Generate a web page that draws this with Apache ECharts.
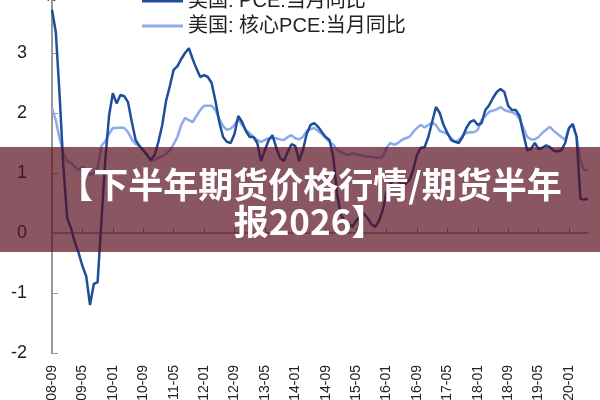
<!DOCTYPE html>
<html>
<head>
<meta charset="utf-8">
<script src="https://cdn.jsdelivr.net/npm/echarts@6/dist/echarts.min.js"></script>
<style>
html,body{margin:0;padding:0;background:#fff;}
#chart{width:600px;height:400px;}
</style>
</head>
<body>
<div id="chart"></div>
<script>
// ---- data ----
const categories = [
 '2008-09','2008-10','2008-11','2008-12',
 '2009-01','2009-02','2009-03','2009-04','2009-05','2009-06','2009-07','2009-08','2009-09','2009-10','2009-11','2009-12',
 '2010-01','2010-02','2010-03','2010-04','2010-05','2010-06','2010-07','2010-08','2010-09','2010-10','2010-11','2010-12',
 '2011-01','2011-02','2011-03','2011-04','2011-05','2011-06','2011-07','2011-08','2011-09','2011-10','2011-11','2011-12',
 '2012-01','2012-02','2012-03','2012-04','2012-05','2012-06','2012-07','2012-08','2012-09','2012-10','2012-11','2012-12',
 '2013-01','2013-02','2013-03','2013-04','2013-05','2013-06','2013-07','2013-08','2013-09','2013-10','2013-11','2013-12',
 '2014-01','2014-02','2014-03','2014-04','2014-05','2014-06','2014-07','2014-08','2014-09','2014-10','2014-11','2014-12',
 '2015-01','2015-02','2015-03','2015-04','2015-05','2015-06','2015-07','2015-08','2015-09','2015-10','2015-11','2015-12',
 '2016-01','2016-02','2016-03','2016-04','2016-05','2016-06','2016-07','2016-08','2016-09','2016-10','2016-11','2016-12',
 '2017-01','2017-02','2017-03','2017-04','2017-05','2017-06','2017-07','2017-08','2017-09','2017-10','2017-11','2017-12',
 '2018-01','2018-02','2018-03','2018-04','2018-05','2018-06','2018-07','2018-08','2018-09','2018-10','2018-11','2018-12',
 '2019-01','2019-02','2019-03','2019-04','2019-05','2019-06','2019-07','2019-08','2019-09','2019-10','2019-11','2019-12',
 '2020-01','2020-02','2020-03','2020-04','2020-05','2020-06'
];
const pceName = '美国: PCE:当月同比';
const coreName = '美国: 核心PCE:当月同比';
const pce = [
 3.72,3.35,2.3,1.1,
 0.25,0.08,-0.15,-0.33,-0.55,-0.72,-1.2,-0.85,-0.82,0.2,1.2,1.95,
 2.33,2.16,2.3,2.28,2.18,1.85,1.55,1.45,1.38,1.3,1.22,1.3,
 1.52,1.8,2.2,2.45,2.72,2.78,2.9,3.0,3.08,2.9,2.74,2.6,
 2.63,2.6,2.5,2.2,1.85,1.6,1.52,1.5,1.65,1.95,1.85,1.7,
 1.6,1.6,1.5,1.2,1.38,1.55,1.63,1.42,1.25,1.2,1.35,1.48,
 1.45,1.2,1.38,1.65,1.8,1.83,1.77,1.68,1.6,1.55,1.27,0.65,
 0.3,0.2,0.17,0.1,0.2,0.28,0.33,0.25,0.15,0.1,0.2,0.38,
 0.68,0.82,0.88,0.86,0.82,0.82,0.88,1.05,1.3,1.42,1.43,1.6,
 1.85,2.1,2.0,1.8,1.67,1.55,1.52,1.5,1.6,1.75,1.85,1.88,
 1.8,1.83,2.05,2.13,2.25,2.35,2.4,2.35,2.12,2.05,2.05,1.95,
 1.65,1.38,1.4,1.5,1.4,1.42,1.46,1.43,1.37,1.36,1.38,1.5,
 1.75,1.82,1.6,0.57,0.56,0.57
];
const core = [
 2.08,1.88,1.57,1.33,
 1.2,1.17,1.1,1.05,1.1,1.05,0.97,1.0,1.08,1.45,1.53,1.65,
 1.75,1.75,1.76,1.75,1.68,1.56,1.48,1.45,1.38,1.3,1.2,1.22,
 1.25,1.28,1.32,1.38,1.48,1.6,1.8,1.92,1.88,1.85,1.95,2.05,
 2.12,2.12,2.12,2.05,1.9,1.78,1.72,1.74,1.8,1.9,1.8,1.72,
 1.66,1.6,1.55,1.52,1.55,1.58,1.58,1.58,1.56,1.55,1.6,1.63,
 1.58,1.56,1.6,1.7,1.73,1.75,1.7,1.65,1.58,1.52,1.47,1.38,
 1.35,1.32,1.3,1.33,1.31,1.3,1.28,1.27,1.27,1.26,1.25,1.27,
 1.42,1.5,1.47,1.5,1.55,1.58,1.6,1.68,1.75,1.8,1.76,1.8,
 1.84,1.8,1.7,1.68,1.65,1.58,1.52,1.55,1.62,1.67,1.68,1.68,
 1.72,1.88,1.95,2.02,2.04,2.06,2.1,2.05,2.03,2.01,1.98,1.9,
 1.75,1.6,1.56,1.56,1.6,1.67,1.72,1.77,1.7,1.65,1.6,1.55,
 1.75,1.8,1.6,1.2,1.05,1.05
];
const yTicks = {min: -2, max: 4, step: 1};
const unitText = '%';
const bannerLines = ['【下半年期货价格行情/期货半年', '报2026】'];

// ---- chart ----
const chart = echarts.init(document.getElementById('chart'), null, {renderer: 'canvas'});
const darkBlue = '#1F4E9B';
const lightBlue = '#8FAAEC';
const latin = 'Liberation Sans, Arial, Noto Sans CJK SC, sans-serif';
const option = {
  animation: false,
  backgroundColor: '#ffffff',
  grid: {left: 52, right: 12, top: -7, bottom: 47, containLabel: false, outerBoundsMode: 'none'},
  legend: {
    orient: 'vertical', left: 142, top: -9, padding: 0,
    itemWidth: 41, itemHeight: 3, itemGap: 5,
    icon: 'rect',
    textStyle: {fontSize: 20, color: '#222', fontFamily: latin},
    data: [{name: pceName}, {name: coreName}]
  },
  xAxis: [
    {
      type: 'category', data: categories, boundaryGap: false, position: 'bottom',
      axisLine: {show: false, onZero: false},
      axisTick: {show: false},
      splitLine: {show: false},
      axisLabel: {interval: 7, rotate: 90, margin: 12, fontSize: 14, color: '#222', fontFamily: latin}
    },
    {
      type: 'category', data: categories, boundaryGap: false, position: 'bottom',
      axisLine: {show: true, onZero: true, lineStyle: {color: '#8a8a8a', width: 1.5}},
      axisTick: {show: true, inside: true, interval: 7, length: 5, lineStyle: {color: '#8a8a8a', width: 1}},
      axisLabel: {show: false},
      splitLine: {show: false}
    }
  ],
  yAxis: {
    type: 'value', min: yTicks.min, max: yTicks.max, interval: yTicks.step,
    axisLine: {show: true, lineStyle: {color: '#999', width: 2}},
    axisTick: {show: true, inside: true, length: 6, lineStyle: {color: '#999', width: 1}},
    axisLabel: {fontSize: 18, color: '#222', margin: 25, fontFamily: latin, showMaxLabel: false},
    splitLine: {show: false}
  },
  series: [
    {
      name: pceName, type: 'line', data: pce, xAxisIndex: 0, showSymbol: false, symbol: 'none',
      lineStyle: {color: darkBlue, width: 2.5}, itemStyle: {color: darkBlue}, z: 3
    },
    {
      name: coreName, type: 'line', data: core, xAxisIndex: 0, showSymbol: false, symbol: 'none',
      lineStyle: {color: lightBlue, width: 2.5}, itemStyle: {color: lightBlue}, z: 2
    }
  ],
  graphic: [
    {type: 'text', left: 45, top: -9, style: {text: unitText, fontSize: 13, fill: '#222', fontFamily: latin}},
    {type: 'rect', shape: {x: 0, y: 147, width: 600, height: 105}, style: {fill: 'rgba(89,14,32,0.7)'}, z: 100},
    {type: 'text', z: 101, x: 310, y: 185, style: {text: bannerLines[0], fill: '#fff', fontSize: 35, fontWeight: 'bold', fontFamily: 'Noto Sans CJK SC', align: 'center', verticalAlign: 'middle'}},
    {type: 'text', z: 101, x: 310, y: 222, style: {text: bannerLines[1], fill: '#fff', fontSize: 35, fontWeight: 'bold', fontFamily: 'Noto Sans CJK SC', align: 'center', verticalAlign: 'middle'}}
  ]
};
chart.setOption(option);
</script>
</body>
</html>
